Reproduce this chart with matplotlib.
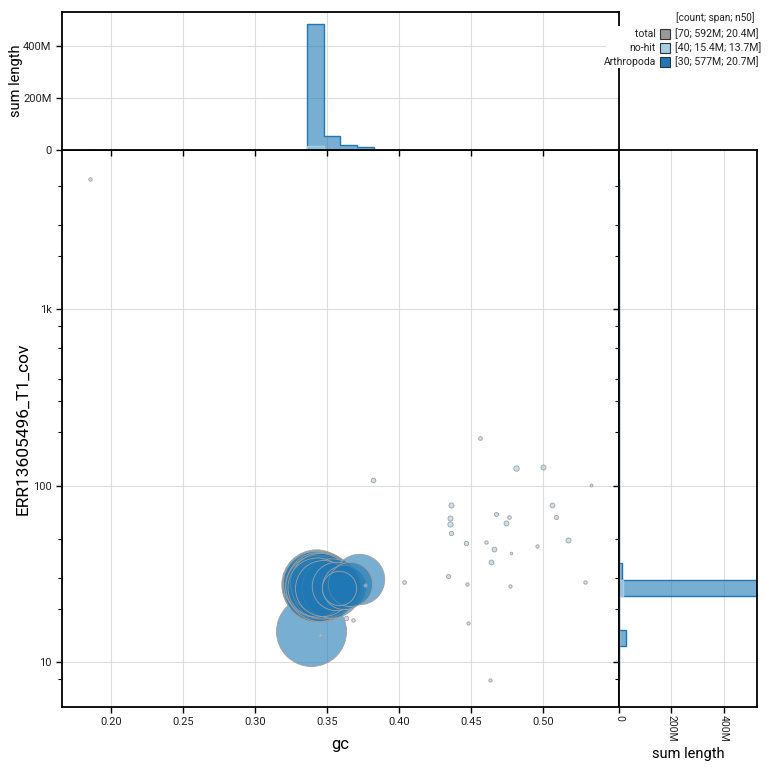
import numpy as np
import matplotlib
matplotlib.use("Agg")
import matplotlib.pyplot as plt
from matplotlib.patches import Rectangle
from matplotlib.ticker import FixedLocator, FuncFormatter, NullFormatter

plt.rcParams['font.family'] = ['Roboto', 'DejaVu Sans']

# ---------------- data ----------------
arth_gc = [0.3420, 0.3445, 0.3430, 0.3460, 0.3415, 0.3452, 0.3438, 0.3468, 0.3425, 0.3448,
           0.3418, 0.3462, 0.3435, 0.3455, 0.3428, 0.3470, 0.3442, 0.3422, 0.3465, 0.3450,
           0.3433, 0.3472, 0.3500, 0.3530, 0.3560, 0.3580, 0.3620, 0.3660, 0.3720, 0.3390]
arth_cov = [27.6, 26.9, 27.2, 26.4, 26.8, 27.8, 26.2, 27.0, 25.9, 27.4,
            27.9, 25.8, 27.6, 26.6, 26.5, 27.5, 25.6, 27.0, 26.1, 28.2,
            26.7, 26.3, 26.8, 26.2, 27.0, 26.4, 26.5, 27.5, 29.6, 15.0]
arth_len = [24.5e6, 23.8e6, 23.2e6, 22.9e6, 22.6e6, 22.3e6, 22.0e6, 21.8e6, 21.5e6, 21.3e6,
            21.1e6, 20.9e6, 20.7e6, 20.5e6, 20.3e6, 20.0e6, 19.7e6, 19.4e6, 19.0e6, 18.5e6,
            17.8e6, 16.0e6, 19.0e6, 18.0e6, 12.0e6, 6.0e6, 10.0e6, 10.0e6, 13.0e6, 25.0e6]

nohit_gc = [0.4562, 0.4812, 0.5001, 0.5331, 0.4360, 0.4673, 0.4761, 0.5064, 0.4351, 0.4351,
            0.4742, 0.5092, 0.4360, 0.4463, 0.4601, 0.4661, 0.4960, 0.5171, 0.4779, 0.4640,
            0.4342, 0.4472, 0.4772, 0.5291, 0.4481, 0.4631, 0.1853, 0.4036, 0.3819, 0.3631,
            0.3682, 0.3451, 0.3763, 0.3430]
nohit_cov = [186.6, 125.0, 127.8, 100.3, 77.3, 68.9, 66.0, 77.5, 65.4, 60.3,
             61.1, 66.3, 53.6, 47.2, 47.9, 43.7, 45.6, 48.9, 41.3, 36.7,
             30.8, 27.8, 27.1, 28.5, 16.6, 7.94, 5452.0, 28.5, 107.4, 17.8,
             17.2, 14.2, 27.3, 26.5]
nohit_len = [70e3, 150e3, 130e3, 40e3, 130e3, 80e3, 65e3, 120e3, 130e3, 140e3,
             120e3, 90e3, 100e3, 100e3, 60e3, 120e3, 55e3, 130e3, 35e3, 120e3,
             90e3, 60e3, 55e3, 60e3, 55e3, 55e3, 60e3, 70e3, 110e3, 100e3,
             60e3, 60e3, 50e3, 13.7e6]

cat_names = ["Arthropoda", "no-hit"]
cat_colors = ["#1f78b4", "#a6cee3"]

legend_title = "[count; span; n50]"
legend_labels = ["total", "no-hit", "Arthropoda"]
legend_stats = ["[70; 592M; 20.4M]", "[40; 15.4M; 13.7M]", "[30; 577M; 20.7M]"]
legend_colors = ["#999999", "#a6cee3", "#1f78b4"]

x_ticks = [0.20, 0.25, 0.30, 0.35, 0.40, 0.45, 0.50]
y_ticks = [10, 100, 1000]
y_ticklabels = ["10", "100", "1k"]
y_minor = [8, 20, 30, 50, 200, 300, 400, 600, 800, 2000, 3000, 5000]
hist_ticks = [0, 200e6, 400e6]
hist_ticklabels = ["0", "200M", "400M"]
n_bins = 30

# ---------------- layout ----------------
W = H = 770
fig = plt.figure(figsize=(7.7, 7.7), dpi=100)

def fx(px): return px / W
def fy(py): return 1 - py / H

L, R, T, B = 62, 619, 150, 707
ax = fig.add_axes([fx(L), fy(B), fx(R - L), (B - T) / H])
axt = fig.add_axes([fx(L), fy(T), fx(R - L), (T - 12) / H])
axr = fig.add_axes([fx(R), fy(B), fx(757 - R), (B - T) / H])

grid_kw = dict(color="#dddddd", lw=0.8, zorder=0)
spine_lw = 1.3
tick_kw = dict(direction="out", length=4, width=1, labelsize=8, color="black", labelcolor="#222222")

# ---------------- scatter ----------------
gc_all = np.array(arth_gc + nohit_gc)
cov_all = np.array(arth_cov + nohit_cov)
len_all = np.array(arth_len + nohit_len)
is_nohit = np.array([False] * len(arth_gc) + [True] * len(nohit_gc))
col_all = np.where(is_nohit, cat_colors[1], cat_colors[0])
order = np.argsort(-len_all, kind="stable")
sizes = 2540.0 * len_all / 25e6
for rank, i in enumerate(order):
    z = 3 + rank * 0.001
    if is_nohit[i] and len_all[i] > 1e6:
        z = 2.9  # large no-hit contig lies beneath the Arthropoda cluster
    ax.scatter(gc_all[i], cov_all[i], s=sizes[i],
               facecolor=matplotlib.colors.to_rgba(col_all[i], 0.6),
               edgecolor="#a0a0a0", linewidth=0.6, zorder=z)

ax.set_yscale("log")
ax.set_xlim(0.1659, 0.5527)
ax.set_ylim(5.56, 7960)
ax.xaxis.set_major_locator(FixedLocator(x_ticks))
ax.xaxis.set_major_formatter(FuncFormatter(lambda v, p: f"{v:.2f}"))
ax.yaxis.set_major_locator(FixedLocator(y_ticks))
ax.yaxis.set_major_formatter(FuncFormatter(
    lambda v, p: y_ticklabels[y_ticks.index(int(round(v)))] if int(round(v)) in y_ticks else ""))
ax.yaxis.set_minor_locator(FixedLocator(y_minor))
ax.yaxis.set_minor_formatter(NullFormatter())
ax.tick_params(axis="both", which="major", **tick_kw)
ax.tick_params(axis="y", which="minor", direction="out", length=3, width=0.8)
ax.tick_params(axis="x", which="minor", length=0)
for v in x_ticks:
    ax.axvline(v, **grid_kw)
for v in y_ticks:
    ax.axhline(v, **grid_kw)
for s in ax.spines.values():
    s.set_linewidth(spine_lw)
    s.set_zorder(5)
ax.set_xlabel("gc", fontsize=12)
ax.xaxis.set_label_coords(0.5, (B - 737) / (B - T))
ax.set_ylabel("ERR13605496_T1_cov", fontsize=12.5)
ax.yaxis.set_label_coords((30 - L) / (R - L), 0.5)

# ---------------- histograms ----------------
gmin, gmax = gc_all.min(), gc_all.max()
lmin, lmax = np.log10(cov_all.min()), np.log10(cov_all.max())
gc_edges = np.linspace(gmin, gmax, n_bins + 1)
lcov_edges = np.linspace(lmin, lmax, n_bins + 1)
cov_edges = 10 ** lcov_edges

cat_data = [(arth_gc, arth_cov, arth_len), (nohit_gc, nohit_cov, nohit_len)]
for (g, c, ln), col in zip(cat_data, cat_colors):
    hg, _ = np.histogram(g, bins=gc_edges, weights=ln)
    hc, _ = np.histogram(np.log10(c), bins=lcov_edges, weights=ln)
    axt.stairs(hg, gc_edges, fill=True, color=col, alpha=0.6, lw=0, zorder=1)
    axt.stairs(hg, gc_edges, color=col, lw=1, zorder=2)
    axr.stairs(hc, cov_edges, fill=True, color=col, alpha=0.6, lw=0, orientation="horizontal", zorder=1)
    axr.stairs(hc, cov_edges, color=col, lw=1, orientation="horizontal", zorder=2)

hist_fmt = FuncFormatter(lambda v, p: hist_ticklabels[hist_ticks.index(v)] if v in hist_ticks else "")

axt.set_xlim(ax.get_xlim())
axt.set_ylim(0, 533e6)
axt.xaxis.set_major_locator(FixedLocator(x_ticks))
axt.xaxis.set_major_formatter(NullFormatter())
axt.yaxis.set_major_locator(FixedLocator(hist_ticks))
axt.yaxis.set_major_formatter(hist_fmt)
axt.tick_params(axis="both", which="major", **tick_kw)
for v in x_ticks:
    axt.axvline(v, **grid_kw)
for v in hist_ticks[1:]:
    axt.axhline(v, **grid_kw)
for s in axt.spines.values():
    s.set_linewidth(spine_lw)
    s.set_zorder(5)
axt.set_ylabel("sum length", fontsize=10.5)
axt.yaxis.set_label_coords((23 - L) / (R - L), 0.5)

axr.set_yscale("log")
axr.set_ylim(ax.get_ylim())
axr.set_xlim(0, 528e6)
axr.xaxis.set_major_locator(FixedLocator(hist_ticks))
axr.xaxis.set_major_formatter(hist_fmt)
axr.yaxis.set_major_locator(FixedLocator(y_ticks))
axr.yaxis.set_minor_locator(FixedLocator(y_minor))
axr.yaxis.set_major_formatter(NullFormatter())
axr.yaxis.set_minor_formatter(NullFormatter())
axr.tick_params(axis="both", which="major", **tick_kw)
axr.tick_params(axis="x", labelsize=7.5, pad=2)
axr.tick_params(axis="y", which="minor", direction="out", length=3, width=0.8)
axr.tick_params(axis="x", labelrotation=-90)
for v in hist_ticks[1:]:
    axr.axvline(v, **grid_kw)
for v in y_ticks:
    axr.axhline(v, **grid_kw)
for s in axr.spines.values():
    s.set_linewidth(spine_lw)
    s.set_zorder(5)
axr.set_xlabel("sum length", fontsize=10.5)
axr.xaxis.set_label_coords(0.5, (B - 747) / (B - T))

# ---------------- legend ----------------
fig.patches.append(Rectangle((fx(606), fy(68)), fx(770 - 606), (68 - 26) / H, transform=fig.transFigure,
                             facecolor="white", edgecolor="none", zorder=10))
fig.text(fx(676), fy(18), legend_title, fontsize=7.2, va="center", ha="left", color="#222222", zorder=11)
for k, (lab, st, col) in enumerate(zip(legend_labels, legend_stats, legend_colors)):
    yc = 34 + 14 * k
    fig.text(fx(656), fy(yc), lab, fontsize=7.5, va="center", ha="right", color="#222222", zorder=11)
    fig.patches.append(Rectangle((fx(660), fy(yc + 5)), fx(10), 10 / H, transform=fig.transFigure,
                                 facecolor=col, edgecolor="#333333", lw=0.8, zorder=11))
    fig.text(fx(675), fy(yc), st, fontsize=7.6, va="center", ha="left", color="#222222", zorder=11)

fig.savefig("out.png", dpi=100)
